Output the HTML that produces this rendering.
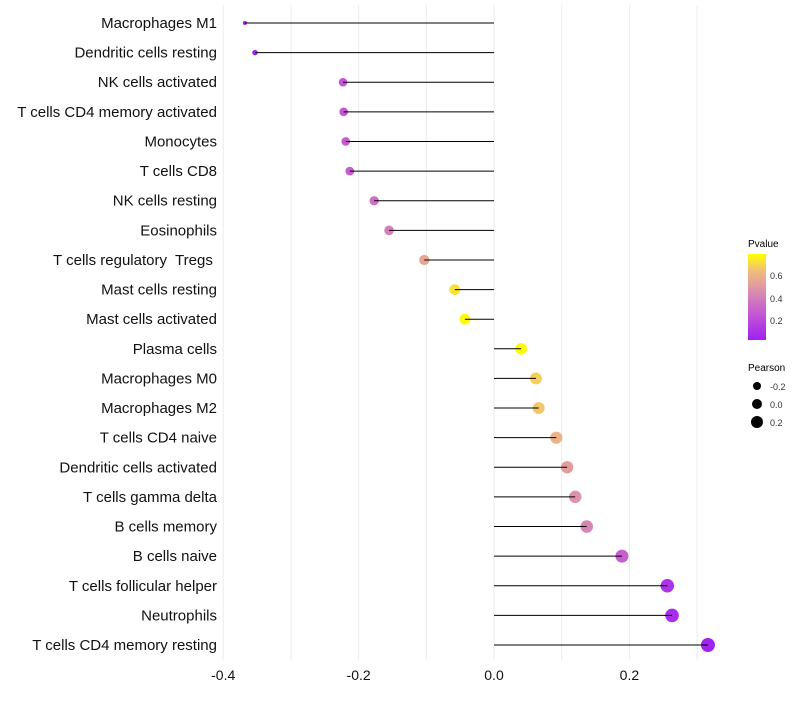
<!DOCTYPE html>
<html><head><meta charset="utf-8"><style>
body{margin:0;background:#fff}
text{font-family:"Liberation Sans",sans-serif;white-space:pre}
</style></head><body>
<svg id="c" width="800" height="700" xmlns="http://www.w3.org/2000/svg">
<defs><linearGradient id="pg" x1="0" y1="1" x2="0" y2="0">
<stop offset="0" stop-color="#a020f0"/><stop offset="0.3" stop-color="#c456d4"/><stop offset="0.55" stop-color="#d98bb0"/><stop offset="0.8" stop-color="#f0bc7c"/><stop offset="1" stop-color="#ffff00"/></linearGradient></defs>
<g id="grid"></g><g id="marks"></g><g id="labels"></g><g id="axis"></g>
<g>
<text x="748" y="247" font-size="10">Pvalue</text>
<rect x="748" y="254" width="18" height="86" fill="url(#pg)"/>
<text x="770" y="279" font-size="9" fill="#333">0.6</text>
<text x="770" y="302" font-size="9" fill="#333">0.4</text>
<text x="770" y="324" font-size="9" fill="#333">0.2</text>
<text x="748" y="371" font-size="10">Pearson</text>
<circle cx="757" cy="386" r="4" fill="#000"/><text x="770" y="390" font-size="9" fill="#333">-0.2</text>
<circle cx="757" cy="404" r="5" fill="#000"/><text x="770" y="408" font-size="9" fill="#333">0.0</text>
<circle cx="757" cy="422" r="6" fill="#000"/><text x="770" y="426" font-size="9" fill="#333">0.2</text>
</g>
</svg>
<script>
const categories=["Macrophages M1","Dendritic cells resting","NK cells activated","T cells CD4 memory activated","Monocytes","T cells CD8","NK cells resting","Eosinophils","T cells regulatory  Tregs ","Mast cells resting","Mast cells activated","Plasma cells","Macrophages M0","Macrophages M2","T cells CD4 naive","Dendritic cells activated","T cells gamma delta","B cells memory","B cells naive","T cells follicular helper","Neutrophils","T cells CD4 memory resting"];
const pearson=[-0.368,-0.353,-0.223,-0.222,-0.219,-0.213,-0.177,-0.155,-0.103,-0.058,-0.043,0.040,0.062,0.066,0.092,0.108,0.120,0.137,0.189,0.256,0.263,0.316];
const pvalue=[0.02,0.03,0.25,0.25,0.27,0.28,0.35,0.40,0.55,0.72,0.78,0.78,0.68,0.66,0.60,0.52,0.48,0.42,0.28,0.10,0.08,0.03];
const xTicks=[-0.4,-0.2,0.0,0.2];
const xTickLabels=["-0.4","-0.2","0.0","0.2"];
const minorTicks=[-0.3,-0.1,0.1,0.3];
const NS="http://www.w3.org/2000/svg";
const x=v=>494+v*677;
const y=i=>23+i*(622/21);
const pmin=Math.min(...pearson),pmax=Math.max(...pearson);
const rad=v=>2+5*Math.sqrt((v-pmin)/(pmax-pmin));
const stops=[[0,[160,32,240]],[0.3,[196,86,212]],[0.55,[217,139,176]],[0.8,[240,188,124]],[1,[255,255,0]]];
function col(p){let t=(p-0.02)/(0.79-0.02);t=Math.max(0,Math.min(1,t));
for(let k=1;k<stops.length;k++){if(t<=stops[k][0]){const a=stops[k-1],b=stops[k],f=(t-a[0])/(b[0]-a[0]);
return"rgb("+a[1].map((c,j)=>Math.round(c+(b[1][j]-c)*f)).join(",")+")";}}return"rgb(255,255,0)";}
function mk(tag,at,parent){const e=document.createElementNS(NS,tag);for(const k in at)e.setAttribute(k,at[k]);document.getElementById(parent).appendChild(e);return e;}
minorTicks.concat(xTicks).forEach(v=>{const l=mk("line",{x1:x(v),x2:x(v),y1:5,y2:660,stroke:"#ebebeb","stroke-width":1},"grid");

});
categories.forEach((c,i)=>{
const cy=y(i);
const pt=mk("circle",{cx:x(pearson[i]),cy:cy,r:rad(pearson[i]),fill:col(pvalue[i])},"marks");


const sg=mk("line",{x1:x(0),x2:x(pearson[i]),y1:cy,y2:cy,stroke:"#000","stroke-width":1},"marks");


const t=mk("text",{x:217,y:cy+5,"text-anchor":"end","font-size":15,fill:"#111"},"labels");
t.textContent=c;

});
xTicks.forEach((v,i)=>{const t=mk("text",{x:x(v),y:680,"text-anchor":"middle","font-size":14,fill:"#111"},"axis");
t.textContent=xTickLabels[i];

});
</script>
</body></html>
